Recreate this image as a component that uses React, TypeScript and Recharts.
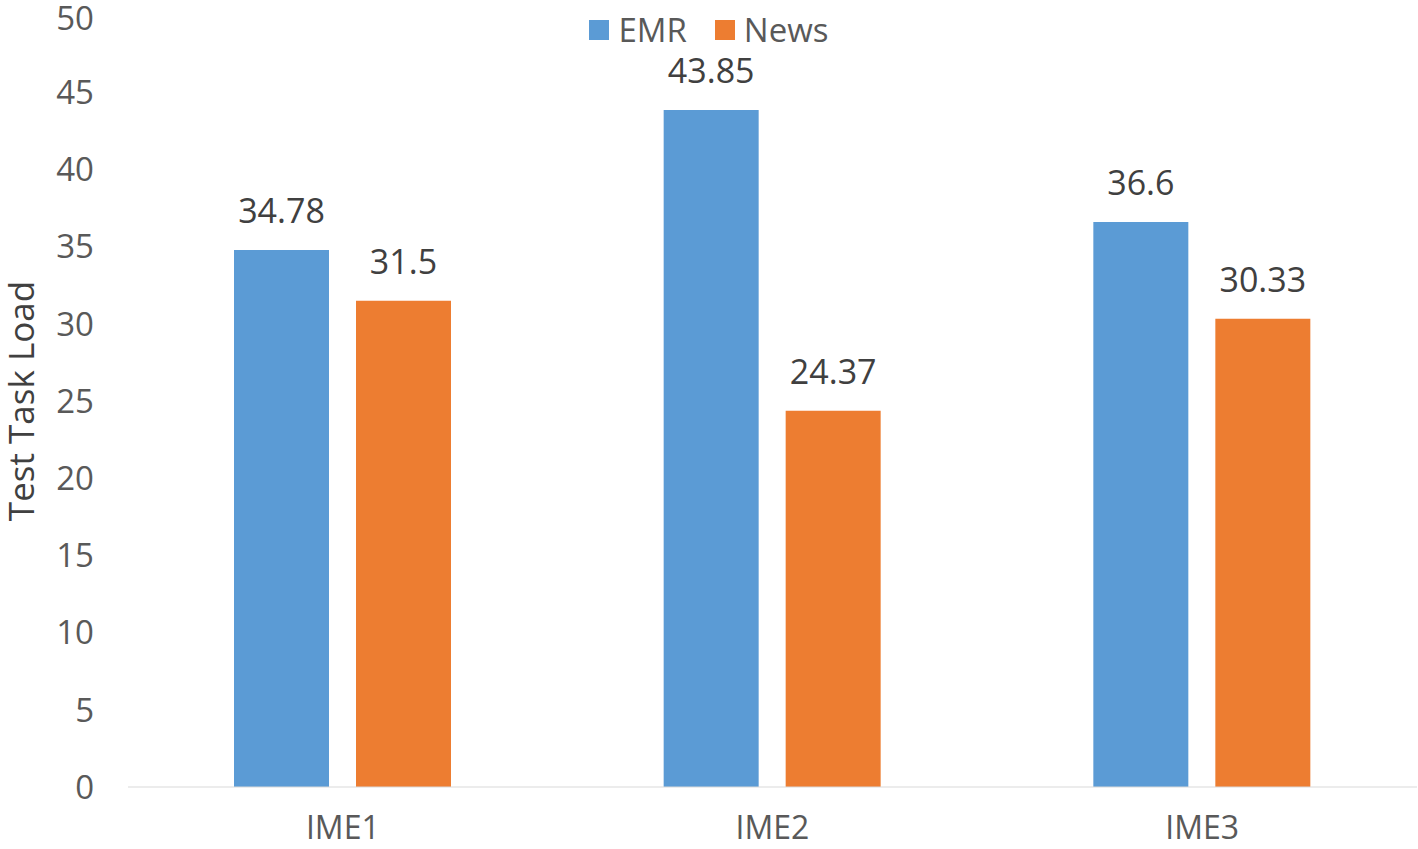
import React from 'react';
import { BarChart, Bar, XAxis, YAxis, LabelList } from 'recharts';

const categories = ['IME1', 'IME2', 'IME3'];
const emrValues = [34.78, 43.85, 36.6];
const newsValues = [31.5, 24.37, 30.33];
const yTicks = [0, 5, 10, 15, 20, 25, 30, 35, 40, 45, 50];
const seriesNames = ['EMR', 'News'];

const data = categories.map((name, i) => ({ name, EMR: emrValues[i], News: newsValues[i] }));

const FONT = '"Open Sans", "Noto Sans", sans-serif';
const BLUE = '#5B9BD5';
const ORANGE = '#ED7D31';
const colors = [BLUE, ORANGE];

// legend sits on top of the plot area, like the original (it doesn't push the plot down)
const ChartLegend = () => (
  <div
    style={{
      position: 'absolute',
      top: 8,
      left: 0,
      width: 1418,
      display: 'flex',
      justifyContent: 'center',
      fontFamily: FONT,
      fontSize: 33,
      color: '#595959',
      lineHeight: '44px',
    }}
  >
    {seriesNames.map((label, i) => (
      <div key={label} style={{ display: 'flex', alignItems: 'center', margin: '0 14px' }}>
        <span style={{ width: 20, height: 20, background: colors[i], display: 'inline-block', marginRight: 9 }} />
        <span>{label}</span>
      </div>
    ))}
  </div>
);

export default function App() {
  return (
    <div style={{ position: 'absolute', left: 0, top: 0, width: 1418, height: 849, background: '#fff' }}>
      <BarChart
        width={1418}
        height={849}
        data={data}
        margin={{ top: 15, right: 1, bottom: 0, left: 0 }}
        barGap={27}
      >
        <XAxis
          dataKey="name"
          height={62}
          stroke="#D9D9D9"
          tickLine={false}
          tickSize={0}
          tickMargin={29}
          tick={{ fill: '#595959', fontSize: 32, fontFamily: FONT }}
        />
        <YAxis
          width={128}
          domain={[0, 50]}
          ticks={yTicks}
          axisLine={false}
          tickLine={false}
          tickSize={30}
          tickMargin={4}
          tick={{ fill: '#595959', fontSize: 33, fontFamily: FONT }}
          label={{
            value: 'Test Task Load',
            angle: -90,
            position: 'insideLeft',
            offset: 0,
            dx: 22,
            style: { textAnchor: 'middle', fill: '#404040', fontSize: 35, fontFamily: FONT },
          }}
        />
        <Bar dataKey="EMR" fill={BLUE} barSize={95} isAnimationActive={false}>
          <LabelList dataKey="EMR" position="top" offset={27} fill="#404040" fontSize={34} fontFamily={FONT} />
        </Bar>
        <Bar dataKey="News" fill={ORANGE} barSize={95} isAnimationActive={false}>
          <LabelList dataKey="News" position="top" offset={27} fill="#404040" fontSize={34} fontFamily={FONT} />
        </Bar>
      </BarChart>
      <ChartLegend />
    </div>
  );
}
